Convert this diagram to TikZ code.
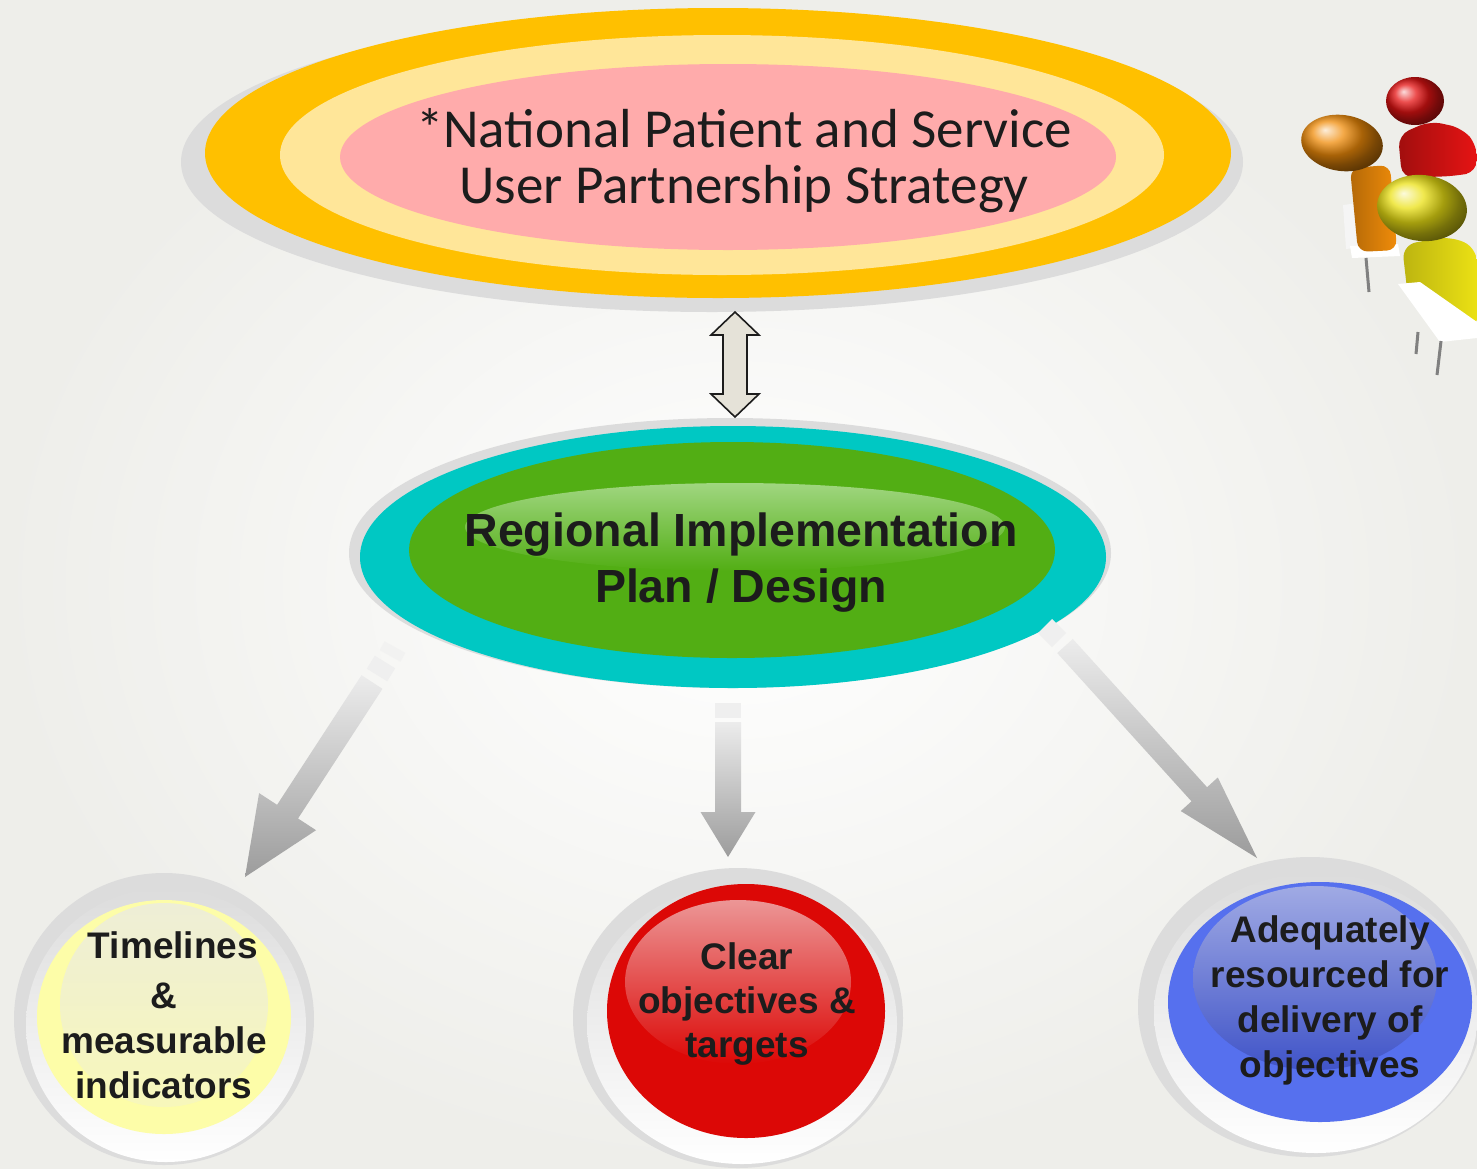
\documentclass[tikz,border=0pt]{standalone}
\usepackage{fontspec}
\setmainfont{Liberation Sans}
\newfontfamily\lightsans{Carlito}
\usetikzlibrary{calc,shapes.geometric}

\definecolor{bggray}{RGB}{238,238,234}
\definecolor{ink}{RGB}{28,28,28}
\definecolor{rimgray}{RGB}{220,220,220}
\definecolor{amber}{RGB}{255,192,0}
\definecolor{cream}{RGB}{255,230,153}
\definecolor{rose}{RGB}{255,171,171}
\definecolor{planteal}{RGB}{0,200,195}
\definecolor{plangreen}{RGB}{82,174,20}
\definecolor{glossgreen}{RGB}{160,214,128}
\definecolor{goalyellow}{RGB}{253,253,168}
\definecolor{glossyellow}{RGB}{238,238,214}
\definecolor{goalred}{RGB}{220,8,6}
\definecolor{glossred}{RGB}{236,150,150}
\definecolor{goalblue}{RGB}{86,112,238}
\definecolor{glossblue}{RGB}{160,170,228}
\definecolor{deepblue}{RGB}{64,84,200}
\definecolor{arrowlight}{RGB}{236,236,236}
\definecolor{arrowdark}{RGB}{156,156,156}
\definecolor{linkfill}{RGB}{229,226,216}
\definecolor{figred}{RGB}{230,20,20}
\definecolor{figorange}{RGB}{240,140,10}
\definecolor{figyellow}{RGB}{235,225,20}

% block arrow: [style]{from}{tip}{half shaft}{half head}{head length}
\newcommand{\blockarrow}[6][]{%
  \coordinate (ba) at ($(#3)!#6!(#2)$);
  \path[#1] ($(#2)!#4!90:(#3)$) -- ($(ba)!#4!-90:(#2)$) -- ($(ba)!#5!-90:(#2)$) -- (#3)
    -- ($(ba)!#5!90:(#2)$) -- ($(ba)!#4!90:(#2)$) -- ($(#2)!#4!-90:(#3)$) -- cycle;}

\begin{document}
\begin{tikzpicture}[x=1pt, y=-1pt,
    title/.style={font=\lightsans\fontsize{55}{56}\selectfont, align=center, text=ink},
    head/.style={font=\bfseries\fontsize{46.5}{56}\selectfont, align=center, text=ink},
    goal/.style={font=\bfseries\fontsize{37}{45}\selectfont, align=center, text=ink},
    bevel/.style={top color=rimgray, bottom color=white},
    grayarrow/.style={top color=arrowlight, bottom color=arrowdark},
    stub/.style={line width=#1, arrowlight!85!white}]

  \useasboundingbox (0,0) rectangle (1477,1168);
  \clip (0,0) rectangle (1477,1168);
  \shade[inner color=white, outer color=bggray] (0,0) rectangle (1477,1168);

  % people at the table
  \shade[left color=figred!70!black, right color=figred, rounded corners=12pt]
    (1398,135) -- (1430,121) -- (1462,128) -- (1477,145) -- (1477,172) -- (1455,176) -- (1402,178) -- cycle;
  \shade[ball color=figred] (1415,101) ellipse [x radius=29pt, y radius=24pt];
  \fill[white!92!gray] (1343,205) -- (1358,203) -- (1362,247) -- (1346,249) -- cycle;
  \fill[white] (1350,246) -- (1398,244) -- (1400,256) -- (1352,258) -- cycle;
  \draw[gray, line width=3pt] (1366,258) -- (1369,292);
  \shade[left color=figorange!75!black, right color=figorange, rounded corners=10pt]
    (1350,168) -- (1390,165) -- (1397,250) -- (1358,252) -- cycle;
  \shade[ball color=figorange, rotate around={-8:(1342,143)}] (1342,143) ellipse [x radius=41pt, y radius=28pt];
  \shade[left color=figyellow!80!black, right color=figyellow, rounded corners=14pt]
    (1402,245) -- (1450,236) -- (1477,248) -- (1477,332) -- (1442,330) -- (1408,298) -- cycle;
  \fill[white] (1398,284) -- (1420,282) -- (1477,322) -- (1477,338) -- (1440,342) -- cycle;
  \draw[gray, line width=3pt] (1418,332) -- (1416,354);
  \draw[gray, line width=3pt] (1441,341) -- (1437,375);
  \shade[ball color=figyellow, rotate around={-6:(1422,208)}] (1422,208) ellipse [x radius=45pt, y radius=33pt];

  % national strategy
  \fill[rimgray] (712,162) ellipse [x radius=531pt, y radius=150pt];
  \fill[amber] (718,153) ellipse [x radius=513pt, y radius=145pt];
  \fill[cream] (722,155) ellipse [x radius=442pt, y radius=120pt];
  \fill[rose] (728,157) ellipse [x radius=388pt, y radius=93pt];
  \node[title] (strategy) at (744,161) {*National Patient and Service\\User Partnership Strategy};

  % regional plan
  \fill[rimgray] (730,553) ellipse [x radius=381pt, y radius=135pt];
  \fill[planteal] (733,557) ellipse [x radius=373pt, y radius=131pt];
  \fill[plangreen] (732,550) ellipse [x radius=323pt, y radius=108pt];
  \shade[top color=glossgreen, bottom color=plangreen] (735,527) ellipse [x radius=270pt, y radius=44pt];
  \node[head] (plan) at (741,563) {Regional Implementation\\Plan / Design};

  % two-way link
  \coordinate (up) at (735,312);
  \coordinate (dn) at (735,417);
  \draw[fill=linkfill, draw=ink, line width=1.6pt, line join=miter]
    (up) -- ++(24,23) -- ++(-12,0) -- ++(0,59) -- ++(12,0) -- (dn)
    -- ++(-24,-23) -- ++(12,0) -- ++(0,-59) -- ++(-12,0) -- cycle;

  % arrows down to the three goals
  \coordinate (lfrom) at (372,682);
  \coordinate (lto) at (245,877);
  \coordinate (mfrom) at (728,722);
  \coordinate (mto) at (728,857);
  \coordinate (rfrom) at (1065,646);
  \coordinate (rto) at (1257,858);
  \draw[stub=24pt] (385,662) -- (377,675);
  \draw[stub=24pt, opacity=.5] (395,647) -- (390,656);
  \draw[stub=26pt] (728,703) -- (728,718);
  \draw[stub=20pt] (1045,626) -- (1059,640);
  \blockarrow[grayarrow]{lfrom}{lto}{12.5pt}{34pt}{78pt}
  \blockarrow[grayarrow]{mfrom}{mto}{13pt}{27.5pt}{45pt}
  \blockarrow[grayarrow]{rfrom}{rto}{10.5pt}{25pt}{86pt}

  % timelines
  \fill[rimgray] (164,1019) ellipse [x radius=150pt, y radius=146pt];
  \shade[bevel] (166,1025) ellipse [x radius=140pt, y radius=137pt];
  \fill[goalyellow] (164,1017) ellipse [x radius=127pt, y radius=117pt];
  \shade[top color=glossyellow, bottom color=goalyellow!60!glossyellow] (164,1005) ellipse [x radius=104pt, y radius=102pt];
  \node[goal] (timelines) at (164,1015) {\hspace*{18pt}Timelines\\[5pt]\&\\measurable\\indicators};

  % objectives
  \fill[rimgray] (738,1018) ellipse [x radius=165pt, y radius=150pt];
  \shade[bevel] (742,1024) ellipse [x radius=155pt, y radius=140pt];
  \fill[goalred] (746,1011) ellipse [x radius=139pt, y radius=127pt];
  \shade[top color=glossred, bottom color=goalred] (738,982) ellipse [x radius=113pt, y radius=82pt];
  \node[goal] (objectives) at (747,1004) {Clear\\[-1pt]objectives \&\\[-1pt]targets};

  % resources
  \fill[rimgray] (1310,1007) ellipse [x radius=172pt, y radius=150pt];
  \shade[bevel] (1316,1013) ellipse [x radius=162pt, y radius=140pt];
  \fill[goalblue] (1320,1002) ellipse [x radius=152pt, y radius=120pt];
  \shade[top color=glossblue, bottom color=deepblue] (1315,978) ellipse [x radius=122pt, y radius=92pt];
  \node[goal] (resourced) at (1330,1000) {Adequately\\resourced for\\delivery of\\objectives};
\end{tikzpicture}
\end{document}
